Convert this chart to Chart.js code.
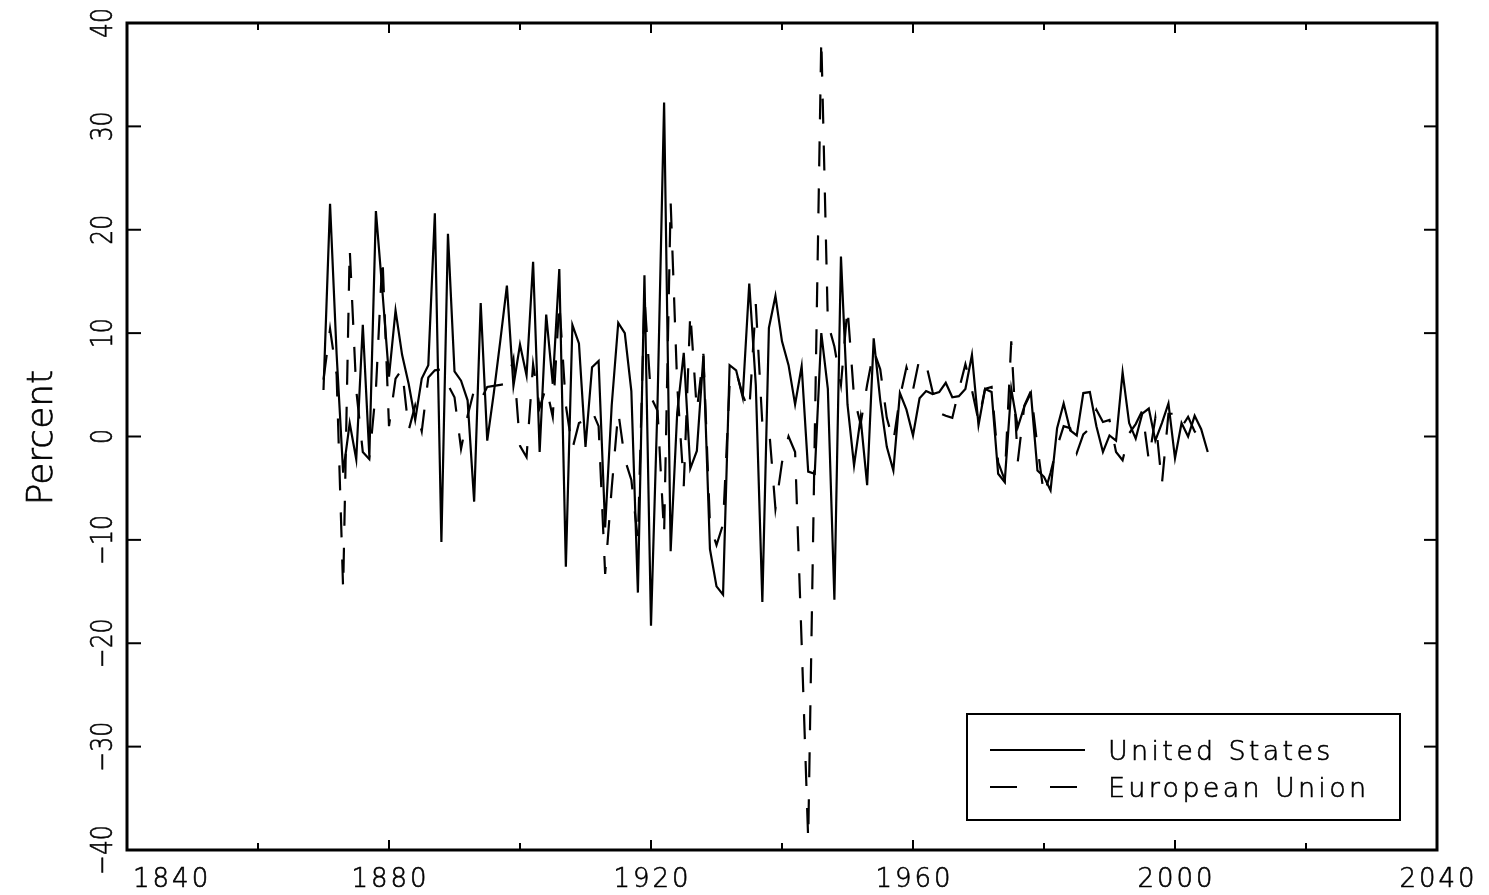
<!DOCTYPE html>
<html>
<head>
<meta charset="utf-8">
<title>United States vs European Union, percent</title>
<script src="https://cdn.jsdelivr.net/npm/chart.js@4.4.1/dist/chart.umd.min.js"></script>
<style>
  html, body { margin: 0; padding: 0; background: #fff; }
  #chart { display: block; }
</style>
</head>
<body>
<canvas id="chart" width="1489" height="895"></canvas>
<script>
/* ── DATA ────────────────────────────────────────────────── */
const FIRST_YEAR = 1870;

// United States, 1870-2005 (one value per year)
const usValues = [
   4.5,  22.5,   8.0,  -3.5,   1.3,  -2.2,  10.8,  -1.9,  21.8,  14.0,   // 1870s
   5.8,  12.2,   7.9,   5.1,   1.6,   5.6,   6.9,  21.6, -10.2,  19.6,   // 1880s
   6.3,   5.4,   3.5,  -6.3,  12.9,  -0.4,   4.2,   9.3,  14.6,   4.9,   // 1890s
   8.9,   5.9,  16.9,  -1.5,  11.8,   5.1,  16.2, -12.6,  10.8,   9.0,   // 1900s
  -1.0,   6.7,   7.3,  -8.8,   3.0,  11.0,  10.0,   4.4, -15.1,  15.6,   // 1910s
 -18.3,   3.3,  32.3, -11.1,   2.3,   8.1,  -3.1,  -1.4,   7.8, -10.9,   // 1920s
 -14.5, -15.3,   6.9,   6.4,   3.8,  14.8,   5.0, -16.0,  10.5,  13.6,   // 1930s
   9.2,   6.9,   3.1,   6.8,  -3.4,  -3.6,  10.0,   4.6, -15.8,  17.4,   // 1940s
   3.1,  -2.8,   1.8,  -4.7,   9.5,   3.5,  -1.0,  -3.3,   4.2,   2.6,   // 1950s
   0.1,   3.7,   4.4,   4.1,   4.3,   5.2,   3.8,   3.9,   4.6,   7.9,   // 1960s
   1.1,   4.6,   4.3,  -3.6,  -4.4,   4.6,   0.9,   2.9,   4.2,  -3.3,   // 1970s
  -3.9,  -5.2,   0.8,   3.2,   0.6,   0.1,   4.2,   4.3,   1.0,  -1.5,   // 1980s
   0.1,  -0.4,   6.2,   1.3,  -0.2,   2.2,   2.7,  -0.4,   1.3,   3.2,   // 1990s
  -2.1,   1.3,   0.0,   2.0,   0.7,  -1.5                                 // 2000-2005
];

// European Union, 1870-2005
const euValues = [
   5.5,  10.4,   6.0, -14.8,  18.2,   4.5,  -1.5,  -2.2,   4.5,  17.4,   // 1870s
   1.0,   5.6,   6.5,   0.6,   3.0,   0.5,   5.7,   6.4,   6.5,   5.0,   // 1880s
   3.8,  -1.2,   2.0,   4.5,   3.5,   4.8,   4.9,   5.0,   5.1,   7.5,   // 1890s
  -0.9,  -2.0,   7.0,   2.8,   4.8,   1.9,  13.0,   3.0,  -1.2,   1.3,   // 1900s
   1.6,   2.5,   1.0, -13.3,  -5.0,   2.4,  -2.2,  -4.2, -10.0,  13.5,   // 1910s
   3.8,   2.5,  -9.5,  22.7,   5.0,  -4.8,  12.0,   2.5,   8.0,  -8.5,   // 1920s
 -10.5,  -8.5,   5.0,   6.3,   4.0,   2.5,  12.8,   1.2,   1.0,  -7.0,   // 1930s
  -2.5,   0.0,  -1.5, -20.0, -39.0,   0.0,  38.5,  11.0,   8.7,   5.0,   // 1940s
  12.5,   3.8,   1.2,   5.0,   8.3,   6.5,   1.8,  -0.5,   3.8,   6.7,   // 1950s
   4.5,   7.6,   7.0,   4.3,   2.3,   2.0,   1.8,   4.5,   7.0,   4.5,   // 1960s
   1.5,   4.6,   4.8,  -2.5,  -4.2,   9.2,  -2.4,   3.0,   4.4,  -1.0,   // 1970s
  -5.7,  -3.5,  -1.0,   1.0,   0.8,  -1.6,   0.2,   0.8,   2.6,   1.4,   // 1980s
   1.6,  -1.5,  -2.3,   0.3,   1.2,   2.5,  -2.3,   1.8,  -4.6,   2.2,   // 1990s
   2.2,   0.9,   1.9,   0.5,  -0.3,  -0.4                                 // 2000-2005
];

const seriesNames = ["United States", "European Union"];

// axis ticks
const xTicks  = [1840, 1860, 1880, 1900, 1920, 1940, 1960, 1980, 2000, 2020, 2040];
const xLabels = [1840, 1880, 1920, 1960, 2000, 2040];
const yTicks  = [-40, -30, -20, -10, 0, 10, 20, 30, 40];
const yTitle  = "Percent";

const years = usValues.map((_, i) => FIRST_YEAR + i);
const toPoints = vals => vals.map((v, i) => ({ x: years[i], y: v }));

/* ── FONTS ───────────────────────────────────────────────── */
const FONT_FAMILY = '"DejaVu Sans", "Liberation Sans", sans-serif';

// thin font, thickened a little with an outline
function drawText(ctx, txt, x, y) {
  ctx.fillText(txt, x, y);
  ctx.strokeText(txt, x, y);
}

/* ── FRAME / TICKS / LABELS / LEGEND ─────────────────────── */
const framePlugin = {
  id: "frame",
  afterDraw(chart) {
    const { ctx, chartArea: a, scales: { x, y } } = chart;
    ctx.save();
    ctx.strokeStyle = "#000";
    ctx.fillStyle = "#000";
    ctx.setLineDash([]);

    const line = (x1, y1, x2, y2) => {
      ctx.beginPath(); ctx.moveTo(x1, y1); ctx.lineTo(x2, y2); ctx.stroke();
    };

    // tick marks, inward on all four sides
    ctx.lineWidth = 2;
    xTicks.forEach(v => {
      const px = x.getPixelForValue(v);
      const len = xLabels.includes(v) ? 10 : 7;
      line(px, a.bottom, px, a.bottom - len);
      line(px, a.top, px, a.top + len);
    });
    yTicks.forEach(v => {
      const py = y.getPixelForValue(v);
      line(a.left, py, a.left + 14, py);
      line(a.right, py, a.right - 13, py);
    });

    // plot frame
    ctx.lineWidth = 3;
    ctx.strokeRect(a.left, a.top, a.right - a.left, a.bottom - a.top);

    ctx.lineWidth = 0.6;

    // x labels
    ctx.font = `200 26px ${FONT_FAMILY}`;
    ctx.letterSpacing = "3px";
    ctx.textAlign = "left";
    ctx.textBaseline = "alphabetic";
    xLabels.forEach(v => {
      const txt = String(v);
      const w = ctx.measureText(txt).width - 3;
      let left = x.getPixelForValue(v) - w / 2;
      if (left < a.left + 4) left = a.left + 6;   // keep clear of the y label
      drawText(ctx, txt, left, a.bottom + 37);
    });

    // y labels, rotated
    ctx.letterSpacing = "0px";
    ctx.font = `200 31px ${FONT_FAMILY}`;
    ctx.textAlign = "center";
    yTicks.forEach(v => {
      const txt = v < 0 ? "\u2212" + Math.abs(v) : String(v);
      ctx.save();
      ctx.translate(a.left - 15, y.getPixelForValue(v));
      ctx.rotate(-Math.PI / 2);
      ctx.scale(0.76, 1);
      drawText(ctx, txt, 0, 0);
      ctx.restore();
    });

    // y title
    ctx.font = `200 36px ${FONT_FAMILY}`;
    ctx.save();
    ctx.translate(52, (a.top + a.bottom) / 2 + 1);
    ctx.rotate(-Math.PI / 2);
    drawText(ctx, yTitle, 0, 0);
    ctx.restore();

    // legend box, lower right inside the plot
    const bw = 433, bh = 106;
    const bx = a.right - 37 - bw, by = a.bottom - 30 - bh;
    ctx.fillStyle = "#fff";
    ctx.fillRect(bx, by, bw, bh);
    ctx.lineWidth = 2;
    ctx.strokeRect(bx, by, bw, bh);

    ctx.fillStyle = "#000";
    ctx.font = `200 27px ${FONT_FAMILY}`;
    ctx.letterSpacing = "3.3px";
    ctx.textAlign = "left";
    chart.data.datasets.forEach((ds, i) => {
      const ly = by + 36 + i * 37;
      ctx.lineWidth = 2;
      ctx.setLineDash(i === 0 ? [] : [27, 33]);
      line(bx + 23, ly, bx + 118, ly);
      ctx.setLineDash([]);
      ctx.lineWidth = 0.6;
      drawText(ctx, ds.label, bx + 141, ly + 10);
    });
    ctx.restore();
  }
};

/* ── CHART ───────────────────────────────────────────────── */
new Chart(document.getElementById("chart").getContext("2d"), {
  type: "line",
  data: {
    datasets: [
      {
        label: seriesNames[0],
        data: toPoints(usValues),
        borderColor: "#000",
        borderWidth: 2.2,
        pointRadius: 0,
        tension: 0,
        fill: false
      },
      {
        label: seriesNames[1],
        data: toPoints(euValues),
        borderColor: "#000",
        borderWidth: 2.2,
        borderDash: [25, 22],
        pointRadius: 0,
        tension: 0,
        fill: false
      }
    ]
  },
  options: {
    responsive: false,
    animation: false,
    layout: { padding: { left: 127, right: 52, top: 23, bottom: 45 } },
    plugins: {
      legend: { display: false },
      tooltip: { enabled: false }
    },
    scales: {
      x: { type: "linear", min: 1840, max: 2040, display: false },
      y: { type: "linear", min: -40, max: 40, display: false }
    }
  },
  plugins: [framePlugin]
});
</script>
</body>
</html>
